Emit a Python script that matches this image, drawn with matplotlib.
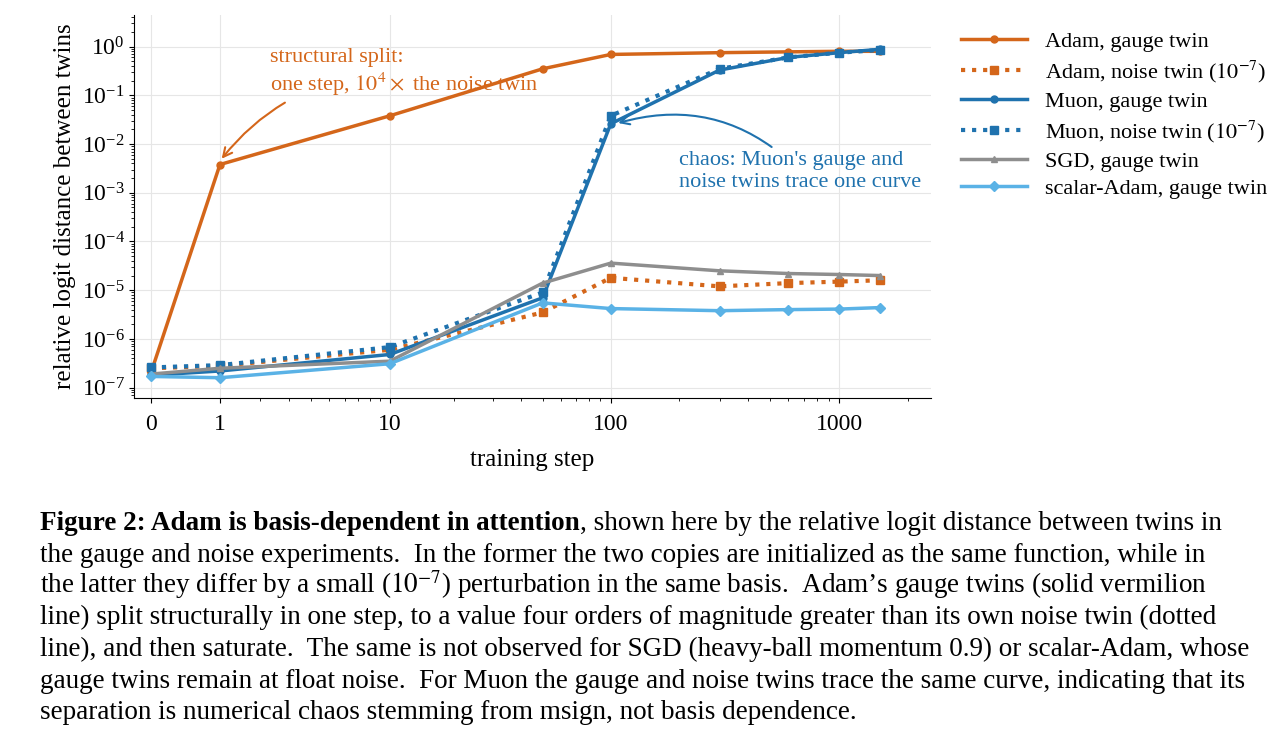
import numpy as np
import matplotlib.pyplot as plt
from matplotlib.transforms import offset_copy

plt.rcParams['font.family'] = ['Liberation Serif', 'DejaVu Serif']
plt.rcParams['mathtext.fontset'] = 'stix'

steps = [0, 1, 10, 50, 100, 300, 600, 1000, 1500]
adam_gauge = [2e-7, 3.8e-3, 3.8e-2, 0.35, 0.69, 0.75, 0.78, 0.8, 0.8]
adam_noise = [2.5e-7, 2.8e-7, 6e-7, 3.5e-6, 1.8e-5, 1.2e-5, 1.4e-5, 1.5e-5, 1.6e-5]
muon_gauge = [1.8e-7, 2.2e-7, 4.8e-7, 7e-6, 2.6e-2, 0.33, 0.6, 0.75, 0.88]
muon_noise = [2.6e-7, 2.9e-7, 6.8e-7, 9e-6, 3.8e-2, 0.35, 0.6, 0.75, 0.85]
sgd_gauge = [1.9e-7, 2.5e-7, 3.5e-7, 1.4e-5, 3.6e-5, 2.5e-5, 2.2e-5, 2.1e-5, 2.0e-5]
scalar_gauge = [1.7e-7, 1.6e-7, 3.1e-7, 5.5e-6, 4.2e-6, 3.8e-6, 4.0e-6, 4.1e-6, 4.4e-6]

orange = '#d4661a'
blue = '#1f72ae'
gray = '#8e8e8e'
light = '#5ab2e6'

fig = plt.figure(figsize=(12.8, 7.38), dpi=100)
ax = fig.add_axes([0.105, 0.461, 0.622, 0.519])

fwd = lambda x: np.sign(x) * np.log10(1 + np.abs(x))
inv = lambda y: np.sign(y) * (10**np.abs(y) - 1)
ax.set_xscale('function', functions=(fwd, inv))
ax.set_yscale('log')

ax.plot(steps, adam_gauge, '-o', color=orange, lw=2.5, ms=5, label='Adam, gauge twin')
ax.plot(steps, adam_noise, ':s', color=orange, lw=3, ms=6, label='Adam, noise twin ($10^{-7}$)')
ax.plot(steps, muon_gauge, '-o', color=blue, lw=2.5, ms=5, label='Muon, gauge twin')
ax.plot(steps, muon_noise, ':s', color=blue, lw=3, ms=6, label='Muon, noise twin ($10^{-7}$)')
ax.plot(steps, sgd_gauge, '-^', color=gray, lw=2.5, ms=5, label='SGD, gauge twin')
ax.plot(steps, scalar_gauge, '-D', color=light, lw=2.5, ms=5, label='scalar-Adam, gauge twin')

ax.set_xlim(-0.18, 2500)
ax.set_ylim(6.2e-8, 4.5)
ax.set_xticks([0, 1, 10, 100, 1000])
ax.set_xticklabels(['0', '1', '10', '100', '1000'])
minor = [m * 10**k for k in range(0, 4) for m in range(2, 10) if m * 10**k < 2500]
ax.set_xticks(minor, minor=True)
ax.set_yticks([10.0**k for k in range(-7, 1)])
ax.tick_params(labelsize=17)
ax.tick_params(axis='x', pad=8)
ax.grid(True, color='#e6e6e6', lw=0.8)
ax.spines['top'].set_visible(False)
ax.spines['right'].set_visible(False)
ax.set_xlabel('training step', fontsize=18, labelpad=10)
ax.set_ylabel('relative logit distance between twins', fontsize=18)

ax.annotate('structural split:\none step, $10^4\\times$ the noise twin', xy=(1, 4.5e-3),
            xytext=(2.3, 0.12), color=orange, fontsize=16,
            arrowprops=dict(arrowstyle='->', color=orange, lw=1.5,
                            connectionstyle='arc3,rad=0.25'))
ax.annotate("chaos: Muon's gauge and\nnoise twins trace one curve", xy=(105, 2.6e-2),
            xytext=(200, 1.3e-3), color=blue, fontsize=16,
            arrowprops=dict(arrowstyle='->', color=blue, lw=1.5,
                            connectionstyle='arc3,rad=0.3'))

fig.legend(loc='upper left', bbox_to_anchor=(0.735, 0.985), frameon=False,
           fontsize=16, handlelength=3, labelspacing=0.3)

lines = [
    None,
    "the gauge and noise experiments.  In the former the two copies are initialized as the same function, while in",
    "the latter they differ by a small ($10^{-7}$) perturbation in the same basis.  Adam\u2019s gauge twins (solid vermilion",
    "line) split structurally in one step, to a value four orders of magnitude greater than its own noise twin (dotted",
    "line), and then saturate.  The same is not observed for SGD (heavy-ball momentum 0.9) or scalar-Adam, whose",
    "gauge twins remain at float noise.  For Muon the gauge and noise twins trace the same curve, indicating that its",
    "separation is numerical chaos stemming from msign, not basis dependence.",
]
x0 = 40 / 1280
y0 = 1 - 530 / 738
dy = 31.5 / 738
bold = fig.text(x0, y0, 'Figure 2: Adam is basis-dependent in attention', fontsize=19.5,
                fontweight='bold', va='baseline')
r = fig.canvas.get_renderer()
w = bold.get_window_extent(r).width
fig.text(x0, y0, ', shown here by the relative logit distance between twins in', fontsize=19.5,
         va='baseline', transform=offset_copy(fig.transFigure, fig=fig, x=w, y=0, units='dots'))
for i, t in enumerate(lines[1:], start=1):
    fig.text(x0, y0 - i * dy, t, fontsize=19.5, va='baseline')

fig.savefig('out.png', dpi=100)
